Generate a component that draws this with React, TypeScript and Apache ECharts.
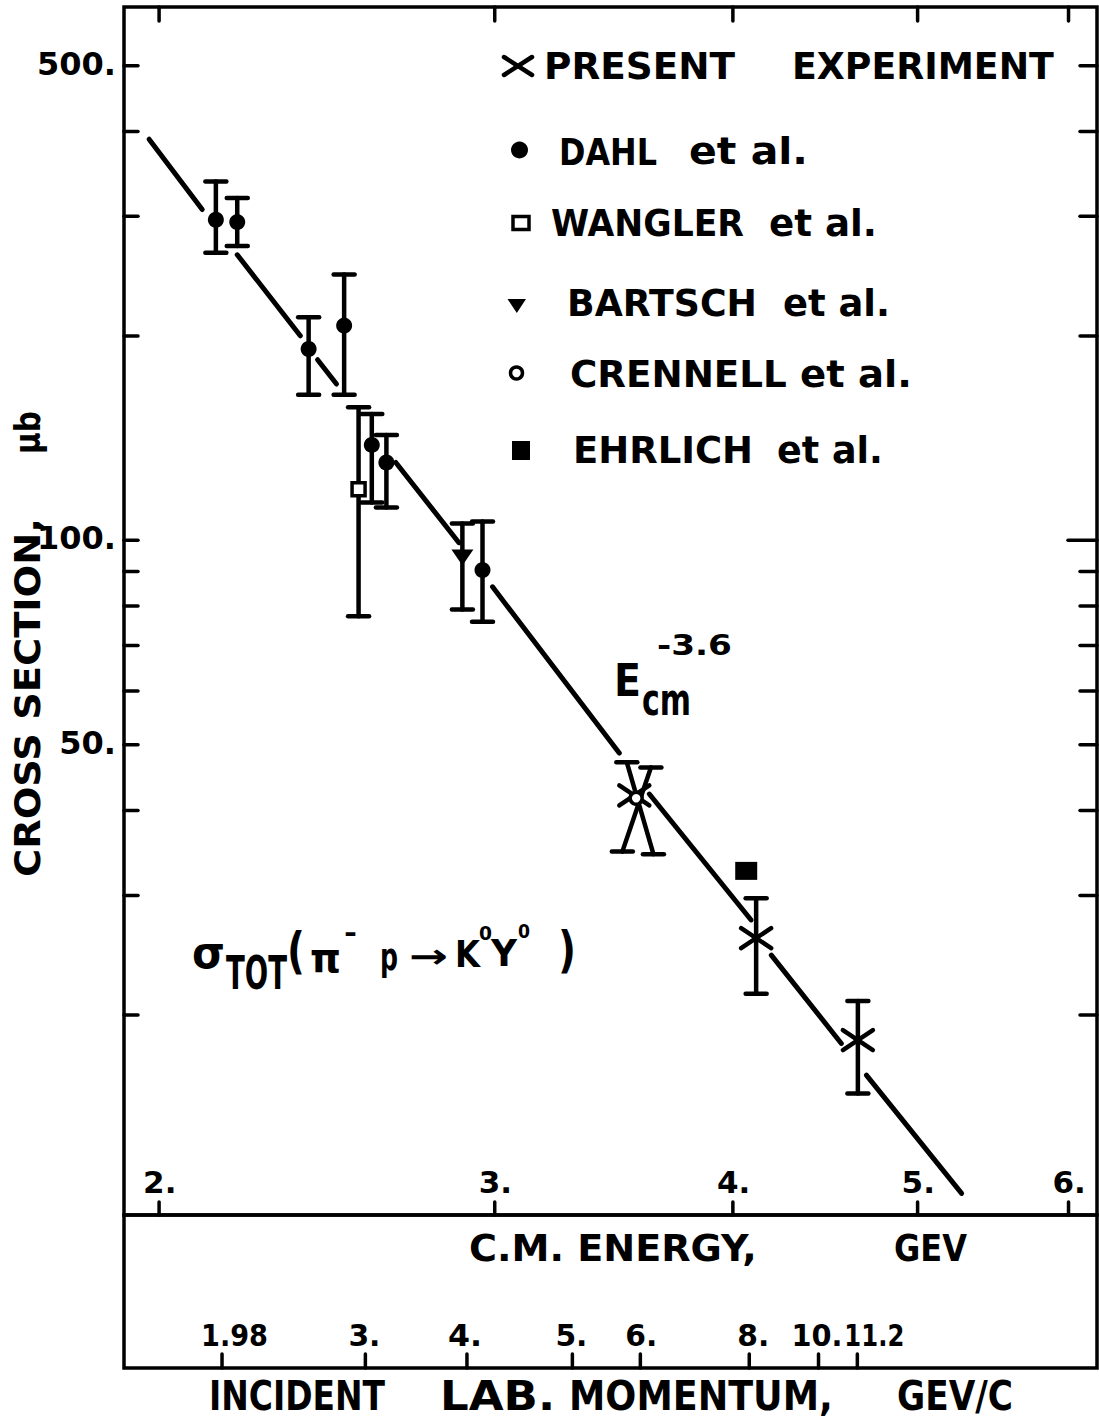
import { useEffect, useRef } from 'react';
import * as echarts from 'echarts';

// ---------------- data ----------------
const yTickValues = [500, 400, 300, 200, 100, 90, 80, 70, 60, 50, 40, 30, 20];
const yLabelValues = [500, 100, 50];
const yLabelTexts = ['500.', '100.', '50.'];

const cmEnergyTicks = [2, 3, 4, 5, 6];
const cmEnergyLabels = ['2.', '3.', '4.', '5.', '6.'];

const labMomentumLabels = ['1.98', '3.', '4.', '5.', '6.', '8.', '10.', '11.2'];
const labMomentumAtEcm = [2.158, 2.566, 2.901, 3.295, 3.577, 4.08, 4.436, 4.649];

const dahlE = [2.142, 2.198, 2.396, 2.501, 2.586, 2.632, 2.956];
const dahlSigma = [296.5, 294.2, 191.3, 207.1, 138.2, 130.2, 90.4];
const dahlLow = [265.1, 271.2, 163.8, 163.8, 113.7, 111.8, 75.9];
const dahlHigh = [337.7, 319.1, 213.1, 246.2, 153.4, 142.9, 106.6];

const wanglerE = [2.545];
const wanglerSigma = [118.9];
const wanglerLow = [77.3];
const wanglerHigh = [157.0];

const bartschE = [2.885];
const bartschSigma = [94.3];
const bartschLow = [79.1];
const bartschHigh = [105.9];

const crennellE = [3.559];
const crennellSigma = [41.7];
const crennellLow = [34.5];
const crennellHigh = [47.1];
const crennellLowE = [3.634];
const crennellHighE = [3.519];

const ehrlichE = [4.065];
const ehrlichSigma = [32.6];

const presentE = [3.551, 4.114, 4.652];
const presentSigma = [42.1, 25.95, 18.37];
const presentLow = [34.8, 21.5, 15.32];
const presentHigh = [46.3, 29.7, 20.97];
const presentLowE = [3.5, 4.114, 4.652];
const presentHighE = [3.623, 4.114, 4.652];

// E_cm^-3.6 fit line, drawn in pieces (gaps as in the original)
const fitE = [
  [1.976, 2.107], [2.198, 2.372], [2.422, 2.478], [2.662, 2.873],
  [2.992, 3.487], [3.616, 4.089], [4.19, 4.56], [4.7, 5.273],
];
const fitSigma = [
  [389.6, 307.0], [263.3, 200.1], [184.5, 169.9], [130.2, 99.2],
  [85.4, 48.6], [42.3, 27.6], [24.5, 18.16], [16.31, 10.92],
];

const legendNames = ['PRESENT', 'DAHL', 'WANGLER', 'BARTSCH', 'CRENNELL', 'EHRLICH'];
const legendSuffixes = ['EXPERIMENT', 'et al.', 'et al.', 'et al.', 'et al.', 'et al.'];

// ---------------- layout ----------------
const X_MIN = 1.917;
const X_MAX = 6.21;
const Y_MIN = 10.15;
const Y_MAX = 610;
const PLOT = { left: 124, top: 7, width: 973, height: 1208 };
const STRIP_H = 153;

const labLabelDx = [-21, -17, -19, -17, -15, -12, -27, -13];
const labLabelW = [67, 32, 34, 32, 32, 32, 51, 60];

const legendNameSpans = [[544, 735], [559, 657], [551, 744], [567, 757], [570, 787], [573, 753]];
const legendSuffixSpans = [[792, 1054], [689, 808], [769, 877], [783, 890], [800, 912], [777, 883]];
const legendRowY = [66, 151, 223, 303, 374, 450];

const BLACK = '#000';
const FAMILY = '"DejaVu Sans", "Liberation Sans", sans-serif';
const fontOf = (size: number) => `bold ${size}px ${FAMILY}`;

let measureCtx: any = null;
function measure(text: string, size: number): number {
  if (!measureCtx) measureCtx = document.createElement('canvas').getContext('2d');
  if (!measureCtx) return text.length * size * 0.6;
  measureCtx.font = fontOf(size);
  return measureCtx.measureText(text).width || text.length * size * 0.6;
}

function textEl(text: string, x: number, y: number, size: number, align = 'left', scaleX = 1, rotation = 0) {
  return {
    type: 'text',
    x,
    y,
    scaleX,
    rotation,
    silent: true,
    style: {
      text,
      font: fontOf(size),
      fill: BLACK,
      textAlign: align,
      textVerticalAlign: 'middle',
      align,
      verticalAlign: 'middle',
    },
  };
}

function fitText(text: string, x0: number, x1: number, y: number, size: number) {
  return textEl(text, x0, y, size, 'left', (x1 - x0) / measure(text, size));
}

function seg(x1: number, y1: number, x2: number, y2: number, w = 3.5) {
  return {
    type: 'line',
    silent: true,
    shape: { x1, y1, x2, y2 },
    style: { stroke: BLACK, lineWidth: w, lineCap: 'round' },
  };
}

function errorBars(E: number[], low: number[], high: number[], lowE?: number[], highE?: number[]) {
  return {
    type: 'custom',
    xAxisIndex: 0,
    yAxisIndex: 0,
    silent: true,
    data: E.map((e, i) => [e, low[i], high[i], lowE ? lowE[i] : e, highE ? highE[i] : e]),
    renderItem: (_params: any, api: any) => {
      const pLow = api.coord([api.value(3), api.value(1)]);
      const pHigh = api.coord([api.value(4), api.value(2)]);
      const hw = 10.5;
      return {
        type: 'group',
        children: [
          seg(pLow[0], pLow[1], pHigh[0], pHigh[1], 4.5),
          seg(pLow[0] - hw, pLow[1], pLow[0] + hw, pLow[1], 4.5),
          seg(pHigh[0] - hw, pHigh[1], pHigh[0] + hw, pHigh[1], 4.5),
        ],
      };
    },
  };
}

function scatter(E: number[], S: number[], symbol: string, size: any, fill: string, border: number, rotate = 0) {
  return {
    type: 'scatter',
    xAxisIndex: 0,
    yAxisIndex: 0,
    silent: true,
    symbol,
    symbolSize: size,
    symbolRotate: rotate,
    data: E.map((e, i) => [e, S[i]]),
    itemStyle: { color: fill, borderColor: BLACK, borderWidth: border, opacity: 1 },
  };
}

function buildOption() {
  const fitSeries = fitE.map((pair, i) => ({
    type: 'line',
    xAxisIndex: 0,
    yAxisIndex: 0,
    silent: true,
    symbol: 'none',
    showSymbol: false,
    data: pair.map((e, j) => [e, fitSigma[i][j]]),
    lineStyle: { color: BLACK, width: 5, cap: 'round' },
  }));

  const presentMarks = {
    type: 'custom',
    xAxisIndex: 0,
    yAxisIndex: 0,
    silent: true,
    data: presentE.map((e, i) => [e, presentSigma[i]]),
    renderItem: (_p: any, api: any) => {
      const p = api.coord([api.value(0), api.value(1)]);
      const w = 15;
      const h = 10;
      return {
        type: 'group',
        children: [
          seg(p[0] - w, p[1] - h, p[0] + w, p[1] + h, 4.5),
          seg(p[0] - w, p[1] + h, p[0] + w, p[1] - h, 4.5),
        ],
      };
    },
  };

  const yTicks = {
    type: 'custom',
    xAxisIndex: 0,
    yAxisIndex: 0,
    silent: true,
    data: yTickValues.map((v) => [X_MIN, v]),
    renderItem: (params: any, api: any) => {
      const cs = params.coordSys;
      const v = api.value(1);
      const y = api.coord([X_MIN, v])[1];
      const children: any[] = [
        seg(cs.x, y, cs.x + 14, y, 3.5),
        seg(cs.x + cs.width - (v === 100 ? 29 : 17), y, cs.x + cs.width, y, 3.5),
      ];
      const li = yLabelValues.indexOf(v);
      if (li >= 0) children.push(textEl(yLabelTexts[li], cs.x - 8, y - 2, 32, 'right'));
      return { type: 'group', children };
    },
  };

  const xTicks = {
    type: 'custom',
    xAxisIndex: 0,
    yAxisIndex: 0,
    silent: true,
    data: cmEnergyTicks.map((e) => [e, Y_MIN]),
    renderItem: (params: any, api: any) => {
      const cs = params.coordSys;
      const i = params.dataIndex;
      const p = api.coord([api.value(0), Y_MIN]);
      return {
        type: 'group',
        children: [
          seg(p[0], p[1], p[0], p[1] - 13, 3.5),
          seg(p[0], cs.y, p[0], cs.y + 14, 3.5),
          textEl(cmEnergyLabels[i], p[0] - 16, p[1] - 33, 31, 'left'),
        ],
      };
    },
  };

  const labTicks = {
    type: 'custom',
    xAxisIndex: 1,
    yAxisIndex: 1,
    silent: true,
    data: labMomentumAtEcm.map((e) => [e, 0]),
    renderItem: (params: any, api: any) => {
      const i = params.dataIndex;
      const p = api.coord([api.value(0), 0]);
      const x0 = p[0] + labLabelDx[i];
      return {
        type: 'group',
        children: [
          seg(p[0], p[1], p[0], p[1] - 14, 3.5),
          fitText(labMomentumLabels[i], x0, x0 + labLabelW[i], p[1] - 33, 31),
        ],
      };
    },
  };

  // legend (drawn by hand, as in the original)
  const legendEls: any[] = [];
  legendNames.forEach((name, r) => {
    const y = legendRowY[r];
    legendEls.push(fitText(name, legendNameSpans[r][0], legendNameSpans[r][1], y, 38));
    legendEls.push(fitText(legendSuffixes[r], legendSuffixSpans[r][0], legendSuffixSpans[r][1], y, 38));
  });
  legendEls.push(seg(504, 57, 532, 75, 4.5), seg(504, 75, 532, 57, 4.5));
  legendEls.push({ type: 'circle', silent: true, shape: { cx: 519.5, cy: 150, r: 8.5 }, style: { fill: BLACK } });
  legendEls.push({
    type: 'rect', silent: true,
    shape: { x: 513, y: 216.5, width: 16, height: 13 },
    style: { fill: '#fff', stroke: BLACK, lineWidth: 3.5 },
  });
  legendEls.push({
    type: 'polygon', silent: true,
    shape: { points: [[507.5, 299], [526, 299], [516.8, 313]] },
    style: { fill: BLACK },
  });
  legendEls.push({
    type: 'circle', silent: true,
    shape: { cx: 516.5, cy: 373, r: 6 },
    style: { fill: '#fff', stroke: BLACK, lineWidth: 3.5 },
  });
  legendEls.push({ type: 'rect', silent: true, shape: { x: 512, y: 441, width: 18, height: 19 }, style: { fill: BLACK } });

  // axis titles and annotations
  const sectionText = 'CROSS SECTION,';
  const ubText = 'μb';
  const titleEls: any[] = [
    textEl(sectionText, 27, 877, 36, 'left', (877 - 518) / measure(sectionText, 36), Math.PI / 2),
    textEl(ubText, 27, 454, 36, 'left', (454 - 411) / measure(ubText, 36), Math.PI / 2),
    fitText('C.M. ENERGY,', 469, 757, 1248, 37),
    fitText('GEV', 894, 967, 1248, 37),
    fitText('INCIDENT', 209, 385, 1396, 41),
    fitText('LAB.', 440, 555, 1396, 41),
    fitText('MOMENTUM,', 569, 833, 1396, 41),
    fitText('GEV/C', 897, 1013, 1396, 41),
    fitText('E', 614, 641, 681, 44),
    fitText('cm', 642, 691, 700, 44),
    fitText('-3.6', 657, 732, 645, 28),
  ];
  const formulaPieces: any[] = [
    ['σ', 192, 225, 953, 44],
    ['TOT', 226, 287, 973, 46],
    ['(', 287, 305, 951, 50],
    ['π', 310, 341, 958, 40],
    ['-', 344, 357, 933, 26],
    ['p', 380, 398, 957, 38],
    ['→', 409, 448, 956, 34],
    ['K', 455, 480, 954, 38],
    ['0', 479, 492, 933, 20],
    ['Y', 491, 517, 953, 38],
    ['0', 518, 530, 931, 20],
    [')', 558, 576, 950, 50],
  ];
  formulaPieces.forEach((f) => titleEls.push(fitText(f[0], f[1], f[2], f[3], f[4])));

  const hiddenLog = (gridIndex: number, min: number, max: number) => ({
    type: 'log', logBase: 10, gridIndex, min, max, show: false,
    axisLine: { show: false }, axisTick: { show: false }, axisLabel: { show: false }, splitLine: { show: false },
  });

  return {
    animation: false,
    backgroundColor: '#fff',
    tooltip: { show: false },
    grid: [
      {
        left: PLOT.left, top: PLOT.top, width: PLOT.width, height: PLOT.height,
        show: true, borderColor: BLACK, borderWidth: 3.5, backgroundColor: 'transparent', containLabel: false,
      },
      {
        left: PLOT.left, top: PLOT.top + PLOT.height, width: PLOT.width, height: STRIP_H,
        show: true, borderColor: BLACK, borderWidth: 3.5, backgroundColor: 'transparent', containLabel: false,
      },
    ],
    xAxis: [hiddenLog(0, X_MIN, X_MAX), hiddenLog(1, X_MIN, X_MAX)],
    yAxis: [
      hiddenLog(0, Y_MIN, Y_MAX),
      { type: 'value', gridIndex: 1, min: 0, max: 1, show: false, splitLine: { show: false } },
    ],
    series: [
      ...fitSeries,
      errorBars(dahlE, dahlLow, dahlHigh),
      errorBars(wanglerE, wanglerLow, wanglerHigh),
      errorBars(bartschE, bartschLow, bartschHigh),
      errorBars(crennellE, crennellLow, crennellHigh, crennellLowE, crennellHighE),
      errorBars(presentE, presentLow, presentHigh, presentLowE, presentHighE),
      presentMarks,
      scatter(dahlE, dahlSigma, 'circle', 16, BLACK, 0),
      scatter(wanglerE, wanglerSigma, 'rect', 13, '#fff', 3.5),
      scatter(bartschE, bartschSigma, 'triangle', [22, 16], BLACK, 0, 180),
      scatter(ehrlichE, ehrlichSigma, 'rect', [22, 18], BLACK, 0),
      scatter(crennellE, crennellSigma, 'circle', 12, '#fff', 3.5),
      yTicks,
      xTicks,
      labTicks,
    ],
    graphic: { elements: [...legendEls, ...titleEls] },
  };
}

export default function App() {
  const ref = useRef<HTMLDivElement>(null);
  useEffect(() => {
    if (!ref.current) return;
    const chart = echarts.init(ref.current, undefined, { renderer: 'svg' });
    chart.setOption(buildOption() as any);
    return () => chart.dispose();
  }, []);
  return (
    <div
      ref={ref}
      style={{ position: 'absolute', left: 0, top: 0, width: 1099, height: 1420, background: '#fff' }}
    />
  );
}
